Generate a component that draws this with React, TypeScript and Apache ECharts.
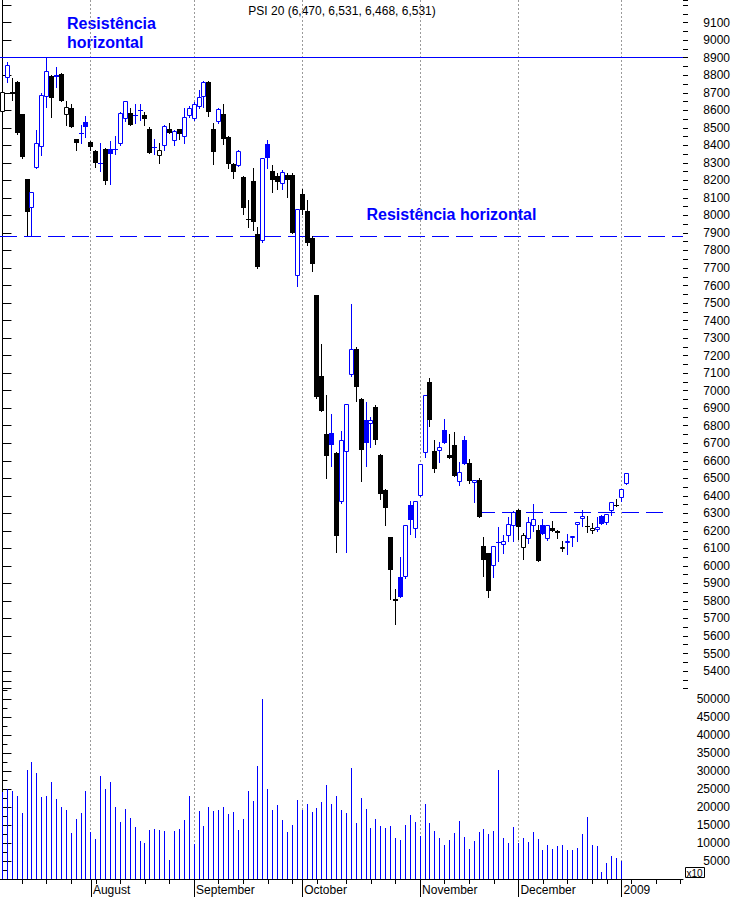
import React, { useEffect, useRef } from "react";
import * as echarts from "echarts";

const BLUE = "#0000ff";
const BLACK = "#000000";
const FONT = "'Liberation Sans', Arial, sans-serif";

const chartTitle = "PSI 20 (6,470, 6,531, 6,468, 6,531)";
const annotationText = "Resistência horizontal";

// trading-day slots: 128 sessions (Jul 8 2008 .. Jan 5 2009) + empty future slots
const SLOT_MIN = -0.5;
const SLOT_MAX = 138.5;

const opens = [
  8588, 8782, 8702, 8759, 8578, 8207, 8045, 8268, 8392, 8677,
  8795, 8801, 8807, 8576, 8611, 8435, 8465, 8534, 8418, 8367,
  8298, 8378, 8378, 8372, 8407, 8548, 8582, 8570, 8597, 8573,
  8493, 8388, 8340, 8397, 8496, 8426, 8493, 8449, 8569, 8553,
  8620, 8674, 8762, 8492, 8534, 8578, 8449, 8296, 8285, 8220,
  7980, 8195, 7896, 7856, 8407, 8253, 8224, 8182, 8230, 8230,
  7653, 8120, 8026, 7874, 7544, 7081, 6750, 6759, 6645, 6363,
  6649, 7091, 7235, 6953, 6830, 6811, 6904, 6630, 6435, 6163,
  5810, 5938, 5934, 6350, 6210, 6397, 6643, 7049, 6654, 6654,
  6776, 6635, 6691, 6477, 6719, 6588, 6473, 6493, 6115, 6072,
  6001, 6130, 6119, 6169, 6226, 6321, 6102, 6153, 6230, 6205,
  6235, 6153, 6216, 6201, 6094, 6129, 6157, 6233, 6268, 6230,
  6201, 6205, 6287, 6245, 6315, 6350, 6388, 6470,
];
const closes = [
  8704, 8858, 8694, 8468, 8334, 8020, 8131, 8416, 8687, 8824,
  8672, 8788, 8654, 8620, 8506, 8414, 8470, 8506, 8392, 8300,
  8302, 8194, 8353, 8378, 8582, 8651, 8514, 8575, 8601, 8548,
  8357, 8393, 8372, 8510, 8470, 8481, 8464, 8564, 8611, 8634,
  8674, 8761, 8592, 8363, 8608, 8439, 8296, 8249, 8365, 8044,
  7974, 7963, 7706, 8325, 8330, 8205, 8192, 8247, 8205, 7897,
  8039, 8030, 7840, 7725, 6963, 6883, 6626, 6689, 6172, 6719,
  6925, 7239, 7020, 6662, 6700, 6830, 6719, 6410, 6329, 5976,
  5800, 5820, 6233, 6262, 6372, 6582, 6978, 6830, 6552, 6681,
  6700, 6616, 6515, 6534, 6582, 6483, 6491, 6277, 6035, 5858,
  6111, 6136, 6142, 6239, 6306, 6220, 6178, 6249, 6268, 6030,
  6182, 6235, 6201, 6186, 6110, 6144, 6172, 6249, 6287, 6224,
  6216, 6224, 6239, 6296, 6363, 6340, 6439, 6531,
];
const highs = [
  8712, 8874, 8782, 8765, 8580, 8210, 8131, 8487, 8696, 8906,
  8800, 8849, 8815, 8654, 8634, 8439, 8515, 8567, 8422, 8372,
  8411, 8385, 8426, 8452, 8590, 8654, 8611, 8634, 8634, 8588,
  8502, 8439, 8411, 8515, 8529, 8487, 8493, 8616, 8624, 8645,
  8715, 8767, 8765, 8525, 8616, 8635, 8452, 8300, 8373, 8225,
  8087, 8268, 7934, 8325, 8430, 8287, 8240, 8258, 8241, 8241,
  8039, 8150, 8087, 7880, 7548, 7268, 6973, 6864, 6650, 6767,
  6925, 7493, 7249, 6960, 6938, 6852, 6921, 6639, 6440, 6165,
  5867, 6052, 6233, 6369, 6372, 6582, 6978, 7072, 6721, 6706,
  6839, 6750, 6763, 6592, 6744, 6611, 6491, 6500, 6163, 6075,
  6111, 6224, 6178, 6281, 6312, 6325, 6188, 6277, 6353, 6233,
  6268, 6235, 6258, 6205, 6144, 6182, 6172, 6249, 6319, 6287,
  6245, 6281, 6291, 6296, 6363, 6382, 6439, 6531,
];
const lows = [
  8525, 8759, 8658, 8465, 8330, 7887, 7887, 8268, 8344, 8620,
  8563, 8731, 8654, 8515, 8506, 8372, 8411, 8445, 8376, 8277,
  8254, 8182, 8182, 8350, 8400, 8540, 8514, 8525, 8544, 8515,
  8357, 8353, 8300, 8373, 8468, 8401, 8439, 8411, 8560, 8544,
  8615, 8620, 8567, 8296, 8525, 8407, 8272, 8216, 8280, 8011,
  7934, 7915, 7700, 7850, 8268, 8134, 8150, 8153, 8106, 7897,
  7597, 8010, 7830, 7683, 6960, 6883, 6502, 6572, 6077, 6360,
  6077, 7085, 6940, 6483, 6569, 6677, 6696, 6382, 6233, 5810,
  5668, 5820, 5930, 6182, 6163, 6397, 6620, 6797, 6534, 6592,
  6700, 6616, 6515, 6464, 6582, 6472, 6363, 6277, 5944, 5820,
  5938, 6030, 6072, 6144, 6144, 6153, 6039, 6129, 6197, 6030,
  6182, 6150, 6201, 6157, 6087, 6068, 6115, 6144, 6230, 6191,
  6186, 6200, 6239, 6240, 6293, 6340, 6372, 6468,
];
// volume (x10), last session has no volume yet
const volumes = [
  24300, 25000, 24400, 23000, 18300, 30300, 32600, 29400, 22800, 23000,
  26900, 22200, 20000, 19200, 12800, 16800, 18300, 24400, 13100, 11100,
  28600, 25100, 26900, 20000, 15800, 19400, 17000, 14500, 10500, 10000,
  13600, 13900, 13600, 13300, 5300, 13300, 13900, 16400, 23000, 9800,
  18900, 14800, 20000, 18900, 19200, 20000, 18000, 18600, 13600, 16800,
  24400, 21700, 31400, 50000, 25000, 19200, 20600, 16400, 13100, 15000,
  21900, 19200, 20800, 18600, 19700, 21400, 26100, 20800, 23000, 19200,
  18300, 30800, 15600, 22500, 19400, 14300, 16700, 14800, 14300, 14800,
  11400, 10700, 15000, 17800, 15800, 11900, 20800, 15500, 13300, 11400,
  9400, 10800, 12800, 16100, 11700, 8300, 10600, 13100, 13900, 12500,
  13300, 30300, 11400, 10000, 14400, 10000, 11400, 10300, 13100, 11100,
  8000, 9400, 8300, 9200, 9400, 8000, 8000, 8600, 12500, 17200,
  9400, 9200, 1900, 4400, 6400, 5700, 5000,
];

const monthStartIdx = [18, 39, 61, 85, 105, 126];
const monthLabels = ["August", "September", "October", "November", "December", "2009"];
const weekTickIdx = [4, 9, 14, 19, 24, 29, 34, 44, 49, 54, 59, 64, 70, 75, 80, 90, 95, 100, 110, 115, 120, 123, 128, 133, 138];

// price axis: range and labels shown 5400..9100
const priceMin = 5300;
const priceMax = 9229.5;
const priceLabelMin = 5400;
const priceLabelMax = 9100;
const volMin = 0;
const volMax = 55000;
const volLabelMin = 5000;
const volLabelMax = 50000;

// horizontal resistance lines
const resLevels = [8905, 7885, 6310];
const resFrom = [-0.5, -0.5, 96.8];
const resTo = [138.5, 138.5, 134.8];
const resDashed = [false, true, true];

export default function App() {
  const ref = useRef<HTMLDivElement>(null);

  useEffect(() => {
    if (!ref.current) return;
    const chart = echarts.init(ref.current, null, { renderer: "svg" });

    const candleData = opens.map((o, i) => [i, o, closes[i], lows[i], highs[i]]);
    const volData = volumes.map((v, i) => [i, v]);
    const monthData = monthStartIdx.map((i) => [i, 0]);
    const resData = resLevels.map((lv, k) => [resFrom[k], resTo[k], lv, k]);

    const candleRender = (params: any, api: any) => {
      const i = Number(api.value(0));
      const o = api.value(1);
      const c = api.value(2);
      const l = api.value(3);
      const h = api.value(4);
      const prev = i > 0 ? closes[i - 1] : Infinity;
      const col = c >= prev ? BLUE : BLACK;
      const pO = api.coord([i, o]);
      const pC = api.coord([i, c]);
      const pL = api.coord([i, l]);
      const pH = api.coord([i, h]);
      const cx = Math.floor(pO[0]) + 0.5;
      const yTop = Math.round(Math.min(pO[1], pC[1]));
      const yBot = Math.round(Math.max(pO[1], pC[1]));
      const hgt = yBot - yTop;
      const children: any[] = [
        {
          type: "line",
          shape: { x1: cx, y1: Math.round(pH[1]), x2: cx, y2: Math.round(pL[1]) + 1 },
          style: { stroke: col, lineWidth: 1 },
        },
      ];
      if (hgt < 2) {
        children.push({
          type: "rect",
          shape: { x: cx - 2.5, y: yTop, width: 5, height: Math.max(hgt, 1) },
          style: { fill: col },
        });
      } else if (c > o) {
        children.push({
          type: "rect",
          shape: { x: cx - 2, y: yTop + 0.5, width: 4, height: hgt - 1 },
          style: { fill: "#ffffff", stroke: col, lineWidth: 1 },
        });
      } else {
        children.push({
          type: "rect",
          shape: { x: cx - 2.5, y: yTop, width: 5, height: hgt },
          style: { fill: col },
        });
      }
      return { type: "group", children };
    };

    const volRender = (params: any, api: any) => {
      const i = api.value(0);
      const v = api.value(1);
      const p0 = api.coord([i, 0]);
      const p1 = api.coord([i, v]);
      const x = Math.floor(p0[0]) + 0.5;
      return {
        type: "line",
        shape: { x1: x, y1: Math.round(p0[1]), x2: x, y2: Math.round(p1[1]) },
        style: { stroke: BLUE, lineWidth: 1 },
      };
    };

    const monthRender = (params: any, api: any) => {
      const i = api.value(0);
      const p = api.coord([i, 0]);
      const x = Math.floor(p[0]) + 0.5;
      return {
        type: "line",
        shape: { x1: x, y1: 0, x2: x, y2: Math.round(p[1]) },
        style: { stroke: "#9a9a9a", lineWidth: 1, lineDash: [2, 2] },
      };
    };

    const resRender = (params: any, api: any) => {
      const x1 = api.value(0);
      const x2 = api.value(1);
      const lv = api.value(2);
      const k = Number(api.value(3));
      const a = api.coord([x1, lv]);
      const b = api.coord([x2, lv]);
      const y = Math.round(a[1]) + 0.5;
      return {
        type: "line",
        shape: { x1: Math.round(a[0]), y1: y, x2: Math.round(b[0]), y2: y },
        style: { stroke: BLUE, lineWidth: 1, lineDash: resDashed[k] ? [17, 7] : null },
      };
    };

    const option: any = {
      animation: false,
      backgroundColor: "#ffffff",
      textStyle: { fontFamily: FONT },
      grid: [
        { left: 0, width: 683, top: 0, height: 688.55 },
        { left: 0, width: 683, top: 681, height: 198 },
      ],
      xAxis: [
        { gridIndex: 0, type: "value", min: SLOT_MIN, max: SLOT_MAX, show: false, splitLine: { show: false } },
        {
          gridIndex: 1,
          type: "value",
          position: "bottom",
          min: SLOT_MIN,
          max: SLOT_MAX,
          axisLine: { show: true, lineStyle: { color: BLACK, width: 1 } },
          axisTick: { show: true, length: 5, customValues: weekTickIdx, lineStyle: { color: BLACK } },
          axisLabel: {
            show: true,
            customValues: monthStartIdx,
            formatter: (v: number) => {
              const k = monthStartIdx.indexOf(Math.round(v));
              return k >= 0 ? monthLabels[k] : "";
            },
            align: "left",
            margin: 5,
            padding: [0, 0, 0, 2],
            color: BLACK,
            fontSize: 12,
            fontFamily: FONT,
          },
          splitLine: { show: false },
        },
        {
          gridIndex: 1,
          type: "value",
          position: "bottom",
          min: SLOT_MIN,
          max: SLOT_MAX,
          axisLine: { show: false },
          axisTick: { show: true, length: 18, customValues: monthStartIdx, lineStyle: { color: BLACK } },
          axisLabel: { show: false },
          splitLine: { show: false },
        },
      ],
      yAxis: [
        {
          gridIndex: 0,
          type: "value",
          position: "right",
          min: priceMin,
          max: priceMax,
          interval: 100,
          axisLine: { show: true, lineStyle: { color: BLACK, width: 1 } },
          axisTick: { show: true, length: 9, lineStyle: { color: BLACK } },
          axisLabel: {
            show: true,
            formatter: (v: number) => (v >= priceLabelMin && v <= priceLabelMax ? String(v) : ""),
            align: "right",
            margin: 47,
            color: BLACK,
            fontSize: 12,
            fontFamily: FONT,
            showMaxLabel: false,
          },
          splitLine: { show: false },
        },
        {
          gridIndex: 0,
          type: "value",
          position: "right",
          min: priceMin,
          max: priceMax,
          interval: 50,
          axisLine: { show: false },
          axisTick: { show: true, length: 5, lineStyle: { color: BLACK } },
          axisLabel: { show: false },
          splitLine: { show: false },
        },
        {
          gridIndex: 1,
          type: "value",
          position: "right",
          min: volMin,
          max: volMax,
          interval: 5000,
          axisLine: { show: true, lineStyle: { color: BLACK, width: 1 } },
          axisTick: { show: true, length: 9, lineStyle: { color: BLACK } },
          axisLabel: {
            show: true,
            formatter: (v: number) => (v >= volLabelMin && v <= volLabelMax ? String(v) : ""),
            align: "right",
            margin: 47,
            color: BLACK,
            fontSize: 12,
            fontFamily: FONT,
          },
          splitLine: { show: false },
        },
        {
          gridIndex: 1,
          type: "value",
          position: "right",
          min: volMin,
          max: volMax,
          interval: 2500,
          axisLine: { show: false },
          axisTick: { show: true, length: 5, lineStyle: { color: BLACK } },
          axisLabel: { show: false },
          splitLine: { show: false },
        },
      ],
      series: [
        {
          type: "custom",
          name: "months",
          xAxisIndex: 1,
          yAxisIndex: 2,
          data: monthData,
          renderItem: monthRender,
          silent: true,
          clip: false,
          z: 1,
        },
        {
          type: "custom",
          name: "resistance",
          xAxisIndex: 0,
          yAxisIndex: 0,
          data: resData,
          renderItem: resRender,
          silent: true,
          clip: false,
          z: 2,
        },
        {
          type: "custom",
          name: "PSI 20",
          xAxisIndex: 0,
          yAxisIndex: 0,
          data: candleData,
          renderItem: candleRender,
          silent: true,
          clip: false,
          z: 3,
        },
        {
          type: "custom",
          name: "Volume",
          xAxisIndex: 1,
          yAxisIndex: 2,
          data: volData,
          renderItem: volRender,
          silent: true,
          clip: false,
          z: 3,
        },
      ],
      graphic: [
        {
          type: "text",
          x: 67,
          y: 23.5,
          style: { text: "Resistência", fill: BLUE, fontSize: 16, fontWeight: "bold", fontFamily: FONT, verticalAlign: "middle" },
        },
        {
          type: "text",
          x: 67,
          y: 42.8,
          style: { text: "horizontal", fill: BLUE, fontSize: 16, fontWeight: "bold", fontFamily: FONT, verticalAlign: "middle" },
        },
        {
          type: "text",
          x: 366.5,
          y: 214.5,
          style: { text: annotationText, fill: BLUE, fontSize: 16, fontWeight: "bold", fontFamily: FONT, verticalAlign: "middle" },
        },
        {
          type: "text",
          x: 248.3,
          y: 11.1,
          style: { text: chartTitle, fill: BLACK, fontSize: 12, fontFamily: FONT, verticalAlign: "middle" },
        },
        {
          type: "rect",
          shape: { x: 685.5, y: 867.5, width: 19, height: 10 },
          style: { fill: "#ffffff", stroke: BLACK, lineWidth: 1 },
        },
        {
          type: "text",
          x: 686.5,
          y: 873,
          style: { text: "x10", fill: BLACK, fontSize: 10, fontFamily: FONT, verticalAlign: "middle" },
        },
      ],
    };

    chart.setOption(option);
    return () => chart.dispose();
  }, []);

  return (
    <div
      ref={ref}
      style={{ position: "absolute", left: 0, top: 0, width: 733, height: 897, background: "#ffffff" }}
    />
  );
}
